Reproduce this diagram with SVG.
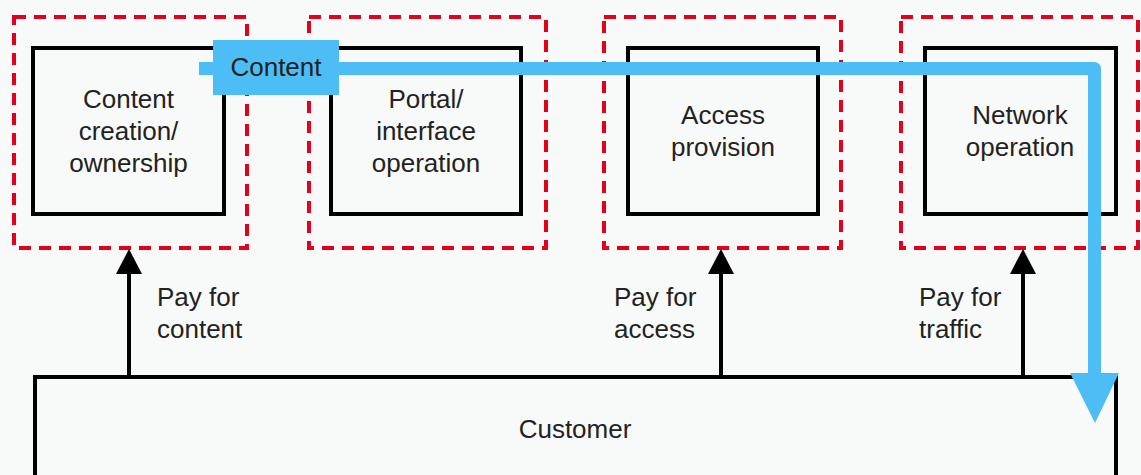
<svg xmlns="http://www.w3.org/2000/svg" width="1141" height="475" viewBox="0 0 1141 475">
  <style>
    .zone { fill: none; stroke: #e2001a; stroke-width: 4; stroke-dasharray: 12 8; }
    .box { fill: none; stroke: #000; stroke-width: 4; }
    .lbl { font-family: "Liberation Sans", Arial, sans-serif; font-size: 26px; fill: #222; }
    .mid { text-anchor: middle; }
    .pay { fill: none; stroke: #000; stroke-width: 4; }
    .head { fill: #000; }
    .flow { fill: none; stroke: #4dbdf5; stroke-width: 13; stroke-linejoin: round; }
  </style>

  <rect width="1141" height="475" fill="#f8faf9"/>

  <!-- provider roles -->
  <g id="content-creation">
    <rect class="zone" x="14" y="17" width="233" height="231"/>
    <rect class="box" x="33" y="48" width="191" height="166"/>
    <text class="lbl mid" x="128.5" y="108">Content</text>
    <text class="lbl mid" x="128.5" y="140">creation/</text>
    <text class="lbl mid" x="128.5" y="172">ownership</text>
  </g>
  <g id="portal">
    <rect class="zone" x="309" y="17" width="237" height="231"/>
    <rect class="box" x="331" y="48" width="190" height="166"/>
    <text class="lbl mid" x="426" y="108">Portal/</text>
    <text class="lbl mid" x="426" y="140">interface</text>
    <text class="lbl mid" x="426" y="172">operation</text>
  </g>
  <g id="access">
    <rect class="zone" x="604" y="17" width="237" height="231"/>
    <rect class="box" x="628" y="48" width="190" height="166"/>
    <text class="lbl mid" x="723" y="124">Access</text>
    <text class="lbl mid" x="723" y="156">provision</text>
  </g>
  <g id="network">
    <rect class="zone" x="901" y="17" width="237" height="231"/>
    <rect class="box" x="925" y="48" width="191" height="166"/>
    <text class="lbl mid" x="1020" y="124">Network</text>
    <text class="lbl mid" x="1020" y="156">operation</text>
  </g>

  <g id="customer">
    <rect class="box" x="35" y="377" width="1081" height="120"/>
    <text class="lbl mid" x="575" y="438">Customer</text>
  </g>

  <!-- payment and content flows -->
  <g id="connectors">
    <line class="pay" x1="129" y1="377" x2="129" y2="270"/>
    <path class="head" d="M116,274 L129,249 L142,274 Z"/>
    <line class="pay" x1="721" y1="377" x2="721" y2="270"/>
    <path class="head" d="M708,274 L721,249 L734,274 Z"/>
    <line class="pay" x1="1023" y1="377" x2="1023" y2="270"/>
    <path class="head" d="M1010,274 L1023,249 L1036,274 Z"/>
    <text class="lbl" x="157" y="306">Pay for</text>
    <text class="lbl" x="157" y="338">content</text>
    <text class="lbl" x="614" y="306">Pay for</text>
    <text class="lbl" x="614" y="338">access</text>
    <text class="lbl" x="919" y="306">Pay for</text>
    <text class="lbl" x="919" y="338">traffic</text>

    <path class="flow" d="M199,68.5 H1094.5 V375"/>
    <path d="M1070,373 L1119,373 L1095,423 Z" fill="#4dbdf5"/>
    <g id="content-tag">
      <rect x="213" y="40" width="126" height="55" fill="#4dbdf5"/>
      <text class="lbl mid" x="276" y="76">Content</text>
    </g>
  </g>
</svg>
